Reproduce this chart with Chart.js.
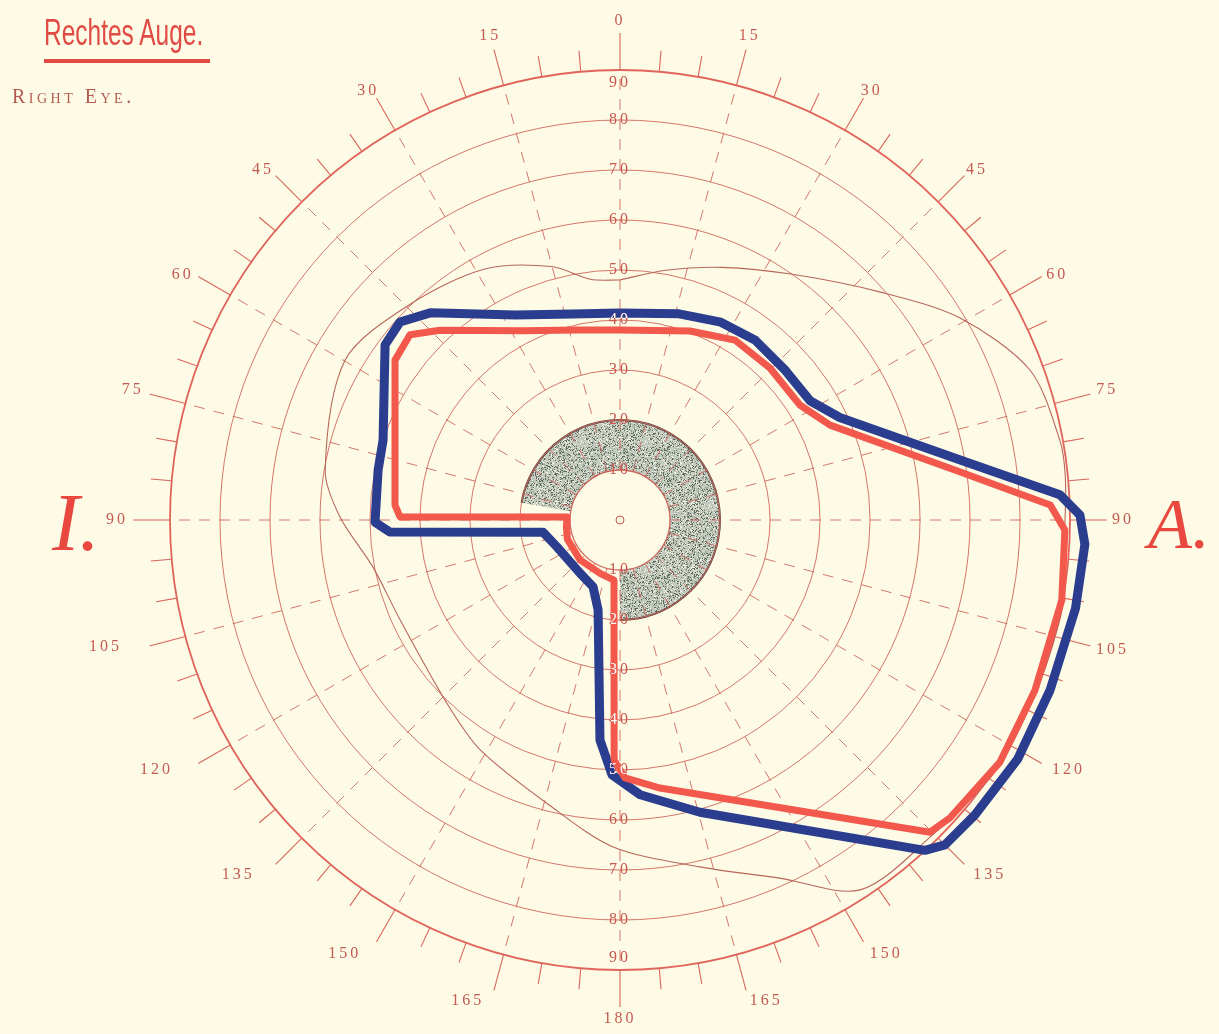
<!DOCTYPE html>
<html>
<head>
<meta charset="utf-8">
<script src="https://cdn.jsdelivr.net/npm/chart.js@4.4.0/dist/chart.umd.min.js"></script>
<style>
  html, body { margin: 0; padding: 0; background: #fdfbe6; }
  #wrap { position: relative; width: 1219px; height: 1034px; overflow: hidden; }
  #field { position: absolute; left: 0; top: 0; }
  .title {
    position: absolute; left: 44px; top: 12px;
    font-family: 'Liberation Sans', sans-serif; font-size: 36px; color: #e04b44;
    transform: scaleX(0.68); transform-origin: left top; white-space: nowrap;
  }
  .rule { position: absolute; left: 44px; top: 59px; width: 166px; height: 4px; background: #e24a42; }
  .sub {
    position: absolute; left: 12px; top: 85px;
    font-family: 'Liberation Serif', serif; font-size: 20px; color: #b45a50;
    font-variant: small-caps; letter-spacing: 3.5px;
  }
</style>
</head>
<body>
<div id="wrap">
  <canvas id="field" width="1219" height="1034"></canvas>
  <div class="title">Rechtes Auge.</div>
  <div class="rule"></div>
  <div class="sub">Right Eye.</div>
</div>
<script>
// meridians (degrees, clockwise from top) and eccentricity rings
const angleTicks = [0, 15, 30, 45, 60, 75, 90, 105, 120, 135, 150, 165, 180];
const eccRings = [10, 20, 30, 40, 50, 60, 70, 80, 90];

// isopters as [meridian, eccentricity]
const blueField = [
  [0, 41.4], [16, 42.9], [27, 44.4], [37, 45], [48, 44.6], [58, 44.9], [65, 48.5],
  [80, 69.1], [86.7, 88.1], [89.4, 92], [93, 93.1], [101, 92.8], [111.6, 92.5],
  [121, 92.8], [129.7, 92.3], [135, 91.9], [137.3, 89.9], [164.7, 60.6], [175.8, 55.1],
  [181.8, 51], [185.2, 44.2], [193.7, 18.5], [202, 14.4], [217, 13.3], [246.8, 13.7],
  [261, 15.6], [267, 46.1], [269.5, 49], [281.7, 49.4], [288.6, 50], [306.7, 58.6],
  [312, 59.2], [317.5, 56.2], [333, 46], [347, 42.3]
];
const redField = [
  [0, 38], [20.3, 40.3], [32.6, 42.7], [44.6, 42.7], [57.4, 42.7], [65.7, 46.1],
  [81.5, 67.7], [88, 86.1], [91.3, 89], [100.3, 89.8], [112.3, 89.7], [122.5, 90.1],
  [132.1, 88.9], [135.2, 88], [171.5, 54.2], [178.9, 51.6], [181.4, 48], [185.7, 12.1],
  [200, 11.4], [225, 11.3], [250, 11.2], [263, 10.8], [273.2, 10.6], [270.8, 44],
  [273.8, 45.1], [305.4, 55.2], [311.4, 56], [316.5, 52.3], [333, 42.5], [347, 39]
];
const thinField = [
  [0, 48], [10.4, 50.8], [22, 54.5], [34.8, 59.9], [48.8, 69.2], [59.3, 79.1],
  [69.9, 87.3], [79.7, 89.4], [84.2, 89.5], [90, 89], [102.8, 90.2], [122.1, 90.4],
  [135.6, 88.7], [147, 88.2], [156, 78.4], [167, 71.2], [181.2, 65.4], [194.5, 58.5],
  [211.3, 53.8], [223.4, 50.4], [245.6, 48.3], [259.2, 50.3], [270.6, 56], [279.6, 59.8],
  [300.2, 63.6], [315.8, 60.2], [331.7, 57], [344.9, 52.5], [353, 48.5]
];
// ring-shaped scotoma
const scotoma = { from: 280, to: 180, inner: 10, outer: 20 };

const rad = d => d * Math.PI / 180;
const toXY = ([a, e]) => ({ x: e * Math.sin(rad(a)), y: e * Math.cos(rad(a)) });
const closed = f => [...f, f[0]].map(toXY);

const GRID = '#cf675d';

function stipple(ctx) {
  const n = 64;
  const c = document.createElement('canvas');
  c.width = c.height = n;
  const g = c.getContext('2d');
  g.fillStyle = '#c2c9bd';
  g.fillRect(0, 0, n, n);
  for (let i = 0; i < n; i++) {
    for (let j = 0; j < n; j++) {
      let h = Math.imul(i * 374761393 + j * 668265263, 1274126177);
      h = ((h ^ (h >>> 13)) >>> 0) % 100;
      if (h < 16) { g.fillStyle = '#5f695a'; g.fillRect(i, j, 1, 1); }
      else if (h < 26) { g.fillStyle = '#949d8e'; g.fillRect(i, j, 1, 1); }
      else if (h > 86) { g.fillStyle = '#eef0e6'; g.fillRect(i, j, 1, 1); }
    }
  }
  return ctx.createPattern(c, 'repeat');
}

function geo(chart) {
  const { x, y } = chart.scales;
  const cx = x.getPixelForValue(0), cy = y.getPixelForValue(0);
  const k = x.getPixelForValue(1) - cx;
  const pt = (a, r) => [cx + r * Math.sin(rad(a)), cy - r * Math.cos(rad(a))];
  return { cx, cy, k, pt };
}

// small hand-set nudges so the meridian numbers sit like the printed ones
function nudge(pos) {
  if ([30, 45, 60, 300, 315, 330].includes(pos)) return [0, 7];
  if (pos > 90 && pos < 180) return [pos === 105 ? 0 : 4 + (pos - 105) / 60 * 12, pos === 105 ? -2 : -5];
  if (pos > 180 && pos < 270) return [-22, -5];
  return [0, 0];
}

// text whose pixels turn white where they sit on an isopter stroke
function knockText(ctx, txt, px, py, font, spacing) {
  ctx.font = font;
  ctx.letterSpacing = spacing;
  const w = Math.ceil(ctx.measureText(txt).width) + 6, h = 20;
  const bx = Math.round(px - w / 2), by = Math.round(py - h / 2);
  const under = ctx.getImageData(bx, by, w, h).data;
  ctx.fillStyle = '#c8574f';
  ctx.textAlign = 'center';
  ctx.textBaseline = 'middle';
  ctx.fillText(txt, px, py);
  const off = document.createElement('canvas');
  off.width = w; off.height = h;
  const o = off.getContext('2d');
  o.font = font; o.letterSpacing = spacing;
  o.fillStyle = '#ffffff'; o.textAlign = 'center'; o.textBaseline = 'middle';
  o.fillText(txt, px - bx, py - by);
  const img = o.getImageData(0, 0, w, h);
  for (let i = 0; i < under.length; i += 4) {
    const r = under[i], g = under[i + 1], b = under[i + 2];
    const onLine = (b > r + 40) || (r > 220 && g < 115 && b < 110);
    if (!onLine) img.data[i + 3] = 0;
  }
  o.putImageData(img, 0, 0);
  ctx.drawImage(off, bx, by);
}

const polarGrid = {
  id: 'polarGrid',
  beforeDatasetsDraw(chart) {
    const ctx = chart.ctx;
    const { cx, cy, k, pt } = geo(chart);
    ctx.save();
    ctx.fillStyle = '#fdfbe6';
    ctx.fillRect(0, 0, chart.width, chart.height);

    // scotoma
    const a0 = rad(scotoma.from - 90), a1 = rad(scotoma.to + 360 - 90);
    ctx.beginPath();
    ctx.arc(cx, cy, scotoma.outer * k, a0, a1);
    ctx.arc(cx, cy, scotoma.inner * k, a1, a0, true);
    ctx.closePath();
    ctx.fillStyle = stipple(ctx);
    ctx.fill();
    ctx.strokeStyle = '#5e4a42';
    ctx.lineWidth = 2;
    ctx.beginPath();
    ctx.arc(cx, cy, scotoma.outer * k, a0, a1);
    ctx.stroke();

    // rings
    eccRings.forEach(e => {
      ctx.beginPath();
      ctx.arc(cx, cy, e * k, 0, Math.PI * 2);
      ctx.strokeStyle = e === 90 ? '#e0645b' : GRID;
      ctx.lineWidth = e === 90 ? 1.8 : (e === 10 ? 1.3 : 0.9);
      ctx.stroke();
    });

    // dashed meridians every 15 degrees
    ctx.setLineDash([11, 9]);
    ctx.lineWidth = 0.9;
    ctx.strokeStyle = GRID;
    for (let a = 0; a < 360; a += 15) {
      const [x0, y0] = pt(a, 10 * k), [x1, y1] = pt(a, 90 * k);
      ctx.beginPath(); ctx.moveTo(x0, y0); ctx.lineTo(x1, y1); ctx.stroke();
    }
    ctx.setLineDash([]);

    // outer ticks every 5 degrees
    ctx.strokeStyle = '#d9655c';
    ctx.lineWidth = 1.1;
    for (let a = 0; a < 360; a += 5) {
      const len = a % 15 === 0 ? 37 : 21;
      const [x0, y0] = pt(a, 90 * k), [x1, y1] = pt(a, 90 * k + len);
      ctx.beginPath(); ctx.moveTo(x0, y0); ctx.lineTo(x1, y1); ctx.stroke();
    }

    // fixation point
    ctx.beginPath();
    ctx.arc(cx, cy, 4, 0, Math.PI * 2);
    ctx.strokeStyle = '#c8574f';
    ctx.lineWidth = 1;
    ctx.stroke();
    ctx.restore();
  },
  afterDatasetsDraw(chart) {
    const ctx = chart.ctx;
    const { cx, cy, k, pt } = geo(chart);
    ctx.save();

    // meridian labels on both halves
    ctx.font = '16px "Liberation Serif", serif';
    ctx.letterSpacing = '3px';
    ctx.fillStyle = '#c55a52';
    ctx.textAlign = 'center';
    ctx.textBaseline = 'middle';
    const sides = [];
    angleTicks.forEach(a => {
      sides.push([a, a]);
      if (a > 0 && a < 180) sides.push([360 - a, a]);
    });
    sides.forEach(([pos, lab]) => {
      const s = String(lab);
      const hw = ctx.measureText(s).width / 2;
      const r = 90 * k + 42 + hw * Math.abs(Math.sin(rad(pos))) + 7 * Math.abs(Math.cos(rad(pos)));
      const [x, y] = pt(pos, r);
      const [dx, dy] = nudge(pos);
      ctx.fillText(s, x + dx, y + dy);
    });

    // eccentricity labels on the vertical meridian
    const f = '16px "Liberation Serif", serif';
    eccRings.forEach(e => {
      const r = (e === 90 ? 87.5 : e) * k;
      knockText(ctx, String(e), cx, cy - r, f, '3px');
      knockText(ctx, String(e), cx, cy + r, f, '3px');
    });

    // nasal / temporal
    ctx.letterSpacing = '0px';
    ctx.fillStyle = '#e8483f';
    ctx.textBaseline = 'alphabetic';
    ctx.textAlign = 'left';
    ctx.font = 'italic 82px "Liberation Serif", serif';
    ctx.fillText('I.', 52, 550);
    ctx.font = 'italic 72px "Liberation Serif", serif';
    ctx.fillText('A.', 1148, 548);
    ctx.restore();
  }
};

new Chart(document.getElementById('field'), {
  type: 'scatter',
  data: {
    datasets: [
      { label: 'rot', data: closed(redField), showLine: true, borderColor: '#f2584c', borderWidth: 7,
        pointRadius: 0, borderJoinStyle: 'round', order: 1 },
      { label: 'blau', data: closed(blueField), showLine: true, borderColor: '#2a3d8e', borderWidth: 9,
        pointRadius: 0, borderJoinStyle: 'round', order: 2 },
      { label: 'weiss', data: closed(thinField), showLine: true, borderColor: '#b8675b', borderWidth: 1.1,
        pointRadius: 0, tension: 0.3, order: 3 }
    ]
  },
  options: {
    responsive: false,
    animation: false,
    events: [],
    layout: { padding: { left: 120, right: 99, top: 20, bottom: 14 } },
    scales: {
      x: { type: 'linear', min: -100, max: 100, display: false },
      y: { type: 'linear', min: -100, max: 100, display: false }
    },
    elements: { line: { tension: 0 } },
    plugins: { legend: { display: false }, tooltip: { enabled: false } }
  },
  plugins: [polarGrid]
});
</script>
</body>
</html>
